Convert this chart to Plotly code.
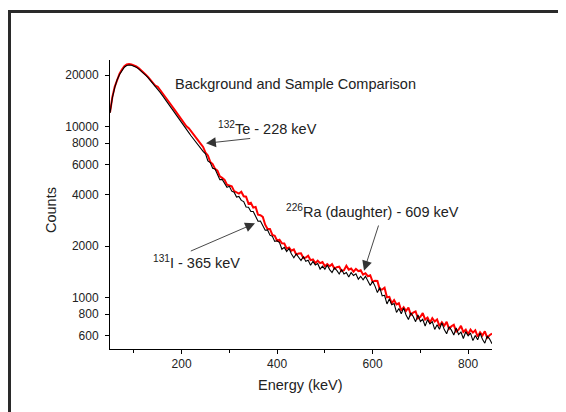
import plotly.graph_objects as go

# Energy channels (keV), 5 keV spacing
energy_kev = list(range(50, 851, 5))

# Background spectrum (black), counts
background_counts = [
    12020, 14790, 16980, 18840, 20180, 21380, 22280, 22800, 22960, 22860,   # 50-95
    22590, 22230, 21780, 21230, 20610, 19950, 19280, 18580, 17870, 17180,   # 100-145
    16540, 15870, 15190, 14540, 13920, 13320, 12720, 12150, 11600, 11050,   # 150-195
    10560, 10130, 9670, 9235, 8820, 8440, 8100, 7770, 7470, 7170,           # 200-245
    6933, 6314, 6161, 5711, 5654, 5213, 4901, 4921, 4673, 4421,             # 250-295
    4479, 4197, 4138, 3875, 3908, 3708, 3647, 3391, 3378, 3190,             # 300-345
    3194, 2973, 2800, 2806, 2646, 2480, 2491, 2322, 2284, 2134,             # 350-395
    2153, 2099, 1920, 1968, 1860, 1939, 1799, 1711, 1801, 1735,             # 400-445
    1649, 1742, 1631, 1655, 1547, 1629, 1555, 1582, 1470, 1531,             # 450-495
    1468, 1552, 1460, 1404, 1491, 1443, 1377, 1462, 1375, 1405,             # 500-545
    1323, 1403, 1348, 1378, 1283, 1334, 1272, 1333, 1240, 1177,             # 550-595
    1246, 1169, 1071, 1147, 1025, 1033, 920, 984, 910, 924,                 # 600-645
    820, 864, 806, 872, 793, 746, 815, 776, 724, 794,                       # 650-695
    726, 748, 683, 744, 702, 724, 652, 695, 654, 712,                       # 700-745
    651, 615, 676, 646, 605, 665, 609, 630, 577, 632,                       # 750-795
    598, 620, 561, 601, 567, 621, 571, 542, 598, 573,                       # 800-845
    538,                                                                    # 850
]

# Sample spectrum (red), counts
sample_counts = [
    12100, 14950, 17150, 19000, 20400, 21600, 22550, 23100, 23250, 23150,   # 50-95
    22850, 22500, 22000, 21450, 20850, 20150, 19500, 18800, 18050, 17350,   # 100-145
    17130, 16430, 15730, 15060, 14410, 13790, 13170, 12580, 12020, 11440,   # 150-195
    10930, 10490, 10060, 9800, 9360, 8960, 8590, 8240, 7930, 7610,          # 200-245
    7061, 6787, 6223, 6041, 5665, 5536, 5125, 5017, 4893, 4581,             # 250-295
    4508, 4477, 4202, 4133, 4064, 4162, 3919, 3899, 3548, 3592,             # 300-345
    3364, 3394, 3057, 3034, 2968, 2673, 2524, 2525, 2329, 2303,             # 350-395
    2153, 2183, 2081, 2077, 1936, 1966, 1882, 1914, 1789, 1812,             # 400-445
    1818, 1706, 1718, 1760, 1657, 1672, 1592, 1645, 1593, 1616,             # 450-495
    1528, 1573, 1527, 1571, 1481, 1507, 1519, 1432, 1449, 1536,             # 500-545
    1459, 1482, 1421, 1474, 1431, 1448, 1364, 1390, 1335, 1353,             # 550-595
    1237, 1257, 1252, 1115, 1115, 1143, 1005, 1012, 926, 969,               # 600-645
    914, 928, 841, 880, 836, 876, 794, 818, 831, 756,                       # 650-695
    774, 813, 745, 765, 714, 759, 726, 746, 682, 718,                       # 700-745
    686, 722, 658, 681, 694, 634, 650, 685, 630, 650,                       # 750-795
    609, 651, 625, 645, 592, 627, 602, 636, 582, 604,                       # 800-845
    617,                                                                    # 850
]

x_major_ticks = [200, 400, 600, 800]
x_minor_ticks = [100, 300, 500, 700]
y_ticks = [600, 800, 1000, 2000, 4000, 6000, 8000, 10000, 20000]
y_tick_labels = ["600", "800", "1000", "2000", "4000", "6000", "8000", "10000", "20000"]

title_text = "Background and Sample Comparison"
x_title = "Energy (keV)"
y_title = "Counts"
label_te = "<sup>132</sup>Te - 228 keV"
label_i = "<sup>131</sup>I - 365 keV"
label_ra = "<sup>226</sup>Ra (daughter) - 609 keV"

FONT = "Liberation Sans, Arial, sans-serif"
TXT = "#222222"

fig = go.Figure()
fig.add_trace(go.Scatter(x=energy_kev, y=sample_counts, mode="lines",
                         line=dict(color="#ff0000", width=2.0), showlegend=False))
fig.add_trace(go.Scatter(x=energy_kev, y=background_counts, mode="lines",
                         line=dict(color="#000000", width=1.1), showlegend=False))

W, H = 566, 412
OFF = 8  # page body margin in the viewer
L, T = 110 - OFF, 60 - OFF
B = H - (349 - OFF)
R = W - (492 - OFF)
pw, ph = W - L - R, H - T - B


def px(xp):
    return (xp - OFF - L) / pw


def py(yp):
    return (H - B - (yp - OFF)) / ph


annos = [
    dict(text=title_text, x=px(173), y=py(84), xanchor="left", yanchor="middle",
         font=dict(size=14.5)),
    dict(text=label_te, x=px(216), y=py(128), xanchor="left", yanchor="middle",
         font=dict(size=14.5)),
    dict(text=label_i, x=px(151), y=py(262), xanchor="left", yanchor="middle",
         font=dict(size=14.5)),
    dict(text=label_ra, x=px(284), y=py(211), xanchor="left", yanchor="middle",
         font=dict(size=14.5)),
    dict(text=x_title, x=px(300), y=py(385), xanchor="center", yanchor="middle",
         font=dict(size=14.5)),
    dict(text=y_title, x=px(51), y=py(210), xanchor="center", yanchor="middle",
         textangle=-90, font=dict(size=14.5)),
]
arrows = [
    ((206, 143.3), (251.7, 138.3)),
    ((255, 223.3), (189.3, 251.7)),
    ((364, 270.7), (379, 224)),
]
for (tx, ty), (sx, sy) in arrows:
    annos.append(dict(text="", x=px(tx), y=py(ty), ax=sx - tx, ay=sy - ty,
                      showarrow=True, arrowhead=2, arrowsize=2.2, arrowwidth=0.9,
                      arrowcolor="#333333", standoff=0, startstandoff=0))
for a in annos:
    a.setdefault("showarrow", False)
    a["xref"] = "paper"
    a["yref"] = "paper"
    a.setdefault("font", {})
    a["font"].update(family=FONT, color=TXT)

fig.update_layout(
    width=W, height=H,
    margin=dict(l=L, r=R, t=T, b=B, pad=0),
    paper_bgcolor="white", plot_bgcolor="white",
    font=dict(family=FONT, size=12, color=TXT),
    annotations=annos,
    shapes=[dict(type="rect", xref="paper", yref="paper",
                 x0=px(9.5), x1=px(620), y0=py(460), y1=py(11.5),
                 line=dict(color="#2a2a2a", width=3), layer="above")],
)
fig.update_xaxes(range=[50, 850], showgrid=False, zeroline=False,
                 showline=True, linecolor="black", linewidth=1,
                 ticks="outside", ticklen=4, tickwidth=1, tickcolor="black",
                 tickvals=x_major_ticks, tickfont=dict(size=12, color=TXT),
                 minor=dict(tickvals=x_minor_ticks, ticks="outside", ticklen=3,
                            tickwidth=1, tickcolor="black"))
fig.update_yaxes(type="log", range=[2.700, 4.390], showgrid=False, zeroline=False,
                 showline=True, linecolor="black", linewidth=1,
                 ticks="outside", ticklen=4, tickwidth=1, tickcolor="black",
                 tickvals=y_ticks, ticktext=y_tick_labels,
                 tickfont=dict(size=12, color=TXT), ticklabelstandoff=4)

fig.write_html("out.html")
